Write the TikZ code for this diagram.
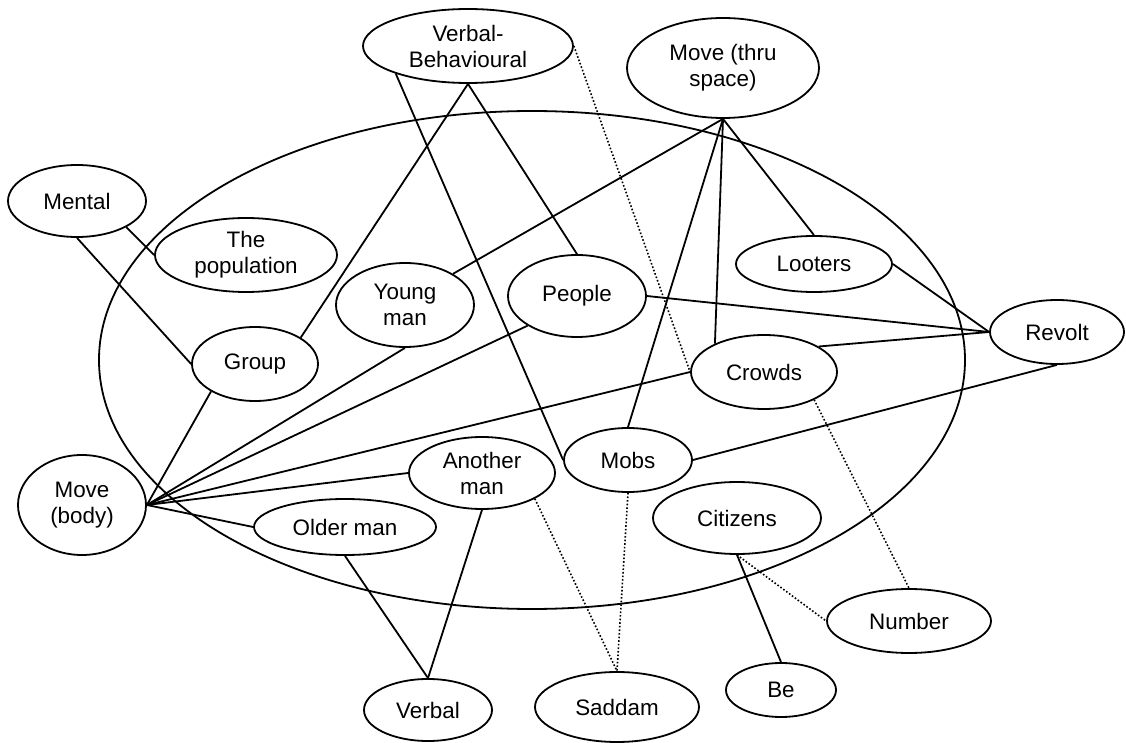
\documentclass[tikz,border=0pt]{standalone}
\usepackage{fontspec}
\setmainfont{Liberation Sans}
\usepackage{tikz}
\usetikzlibrary{shapes.geometric}

\begin{document}
\begin{tikzpicture}[
  x=0.5pt, y=-0.5pt,
  ent/.style  = {
    ellipse, draw, line width=0.9pt, inner sep=0pt, align=center,
    font=\fontsize{11.2}{13}\selectfont
  },
  ln/.style   = {line width=0.9pt},
  dln/.style  = {line width=0.8pt, densely dotted}
]
\useasboundingbox (0,0) rectangle (1126,743);

% Outer ellipse
\draw[ln] (532,360) ellipse [x radius=216.5pt, y radius=124.5pt];

% Process nodes
\node[ent, minimum width=105pt, minimum height=37pt] (vb)      at (468,46)  {Verbal-\\Behavioural};
\node[ent, minimum width=96pt,  minimum height=50pt] (mts)     at (723,68)  {Move (thru\\space)};
\node[ent, minimum width=69pt,  minimum height=36pt] (mental)  at (77,201)  {Mental};
\node[ent, minimum width=64pt,  minimum height=50pt] (mbody)   at (82,505)  {Move\\(body)};
\node[ent, minimum width=67pt,  minimum height=32pt] (revolt)  at (1057,332) {Revolt};
\node[ent, minimum width=64pt,  minimum height=31pt] (verbal)  at (428,710) {Verbal};
\node[ent, minimum width=82pt,  minimum height=35pt] (saddam)  at (617,707) {Saddam};
\node[ent, minimum width=82pt,  minimum height=32pt] (number)  at (909,621) {Number};
\node[ent, minimum width=55pt,  minimum height=27pt] (be)      at (781,690) {Be};

% Participant nodes
\node[ent, minimum width=91pt,  minimum height=37pt] (popn)     at (246,255) {The\\population};
\node[ent, minimum width=69pt,  minimum height=42pt] (young)    at (405,305) {Young\\man};
\node[ent, minimum width=63pt,  minimum height=37pt] (group)    at (255,364) {Group};
\node[ent, minimum width=69pt,  minimum height=41pt] (people)   at (577,296) {People};
\node[ent, minimum width=78pt,  minimum height=28pt] (looters)  at (814,264) {Looters};
\node[ent, minimum width=73pt,  minimum height=37pt] (crowds)   at (764,372) {Crowds};
\node[ent, minimum width=64pt,  minimum height=32pt] (mobs)     at (628,460) {Mobs};
\node[ent, minimum width=73pt,  minimum height=36pt] (another)  at (482,473) {Another\\man};
\node[ent, minimum width=91pt,  minimum height=28pt] (older)    at (345,527) {Older man};
\node[ent, minimum width=84pt,  minimum height=36pt] (citizens) at (737,518) {Citizens};

% Solid links
\draw[ln] (mental.south) -- (group.west);
\draw[ln] (mental.-28)   -- (popn.west);
\draw[ln] (group.30)     -- (vb.south);
\draw[ln] (group.212)    -- (mbody.east);
\draw[ln] (vb.south)     -- (people.north);
\draw[ln] (vb.201)       -- (mobs.west);
\draw[ln] (mts.south) -- (young.33);
\draw[ln] (mts.south) -- (mobs.north);
\draw[ln] (mts.south) -- (crowds.150);
\draw[ln] (mts.south) -- (looters.north);
\draw[ln] (people.east)  -- (revolt.west);
\draw[ln] (looters.east) -- (revolt.west);
\draw[ln] (crowds.25)    -- (revolt.west);
\draw[ln] (mobs.east)    -- (revolt.south);
\draw[ln] (mbody.east) -- (young.south);
\draw[ln] (mbody.east) -- (people.211);
\draw[ln] (mbody.east) -- (crowds.west);
\draw[ln] (mbody.east) -- (another.west);
\draw[ln] (mbody.east) -- (older.west);
\draw[ln] (older.south)   -- (verbal.north);
\draw[ln] (another.south) -- (verbal.north);
\draw[ln] (citizens.south) -- (be.north);

% Dotted links
\draw[dln] (vb.east)        -- (crowds.west);
\draw[dln] (another.334)    -- (saddam.north);
\draw[dln] (mobs.south)     -- (saddam.north);
\draw[dln] (crowds.331)     -- (number.north);
\draw[dln] (citizens.south) -- (number.west);

\end{tikzpicture}
\end{document}
